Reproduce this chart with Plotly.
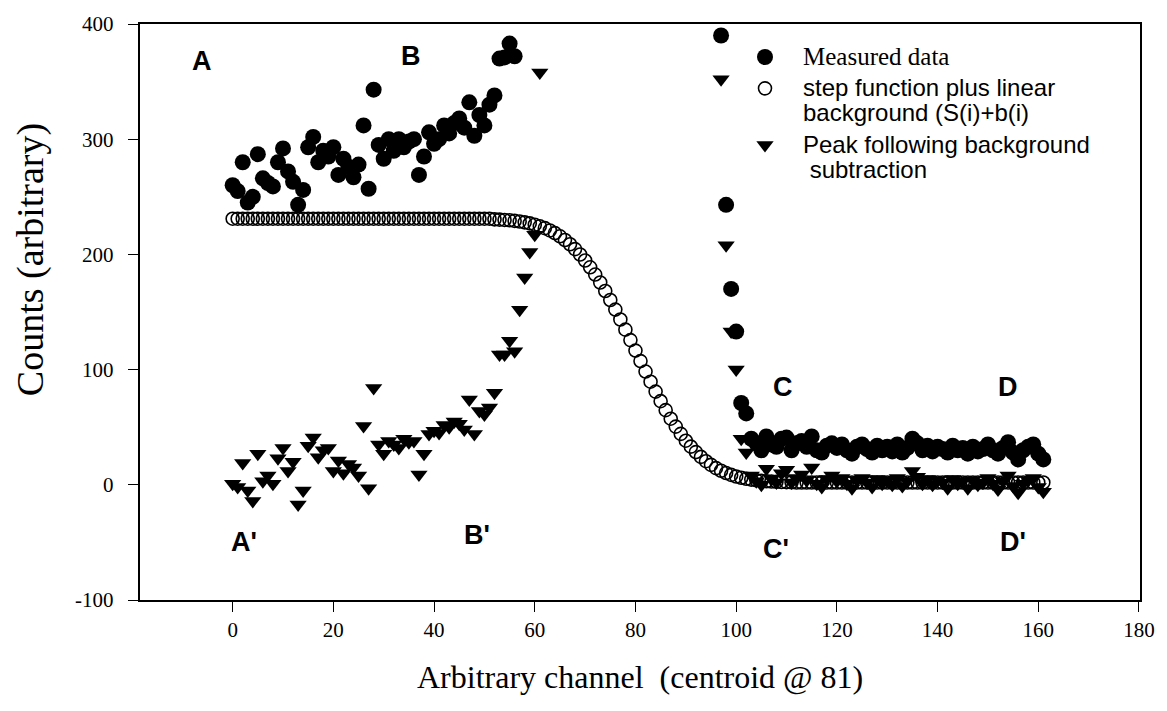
import plotly.graph_objects as go

# ---------------- data ----------------
meas_x = list(range(0, 57)) + [97, 98, 99, 100, 101, 102] + list(range(103, 162))
meas_y = [260, 255, 280, 245, 250, 287, 266, 262, 259, 280,
          292, 272, 263, 243, 256, 293, 302, 280, 290, 285,
          293, 269, 283, 276, 267, 278, 312, 257, 343, 295,
          283, 300, 290, 300, 293, 298, 300, 269, 285, 306,
          296, 300, 312, 305, 314, 318, 310, 332, 303, 321,
          312, 330, 338, 370, 371, 383, 372,
          390, 243, 170, 133, 71, 62,
          40, 36, 30, 42, 35, 33, 40, 41, 30, 36,
          38, 33, 42, 30, 28, 34, 36, 32, 35, 30,
          27, 33, 35, 31, 28, 34, 30, 33, 29, 35,
          28, 32, 40, 36, 30, 34, 29, 33, 31, 28,
          34, 30, 32, 27, 33, 29, 31, 35, 30, 27,
          32, 37, 28, 22, 30, 33, 35, 27, 22]

step_x = list(range(0, 162))
step_y = [231] * 52 + [
    230.4, 230.2, 229.9, 229.6, 229.1, 228.5, 227.8, 226.9, 225.8, 224.4,
    222.8, 220.8, 218.5, 215.7, 212.5, 208.8, 204.6, 199.9, 194.7, 188.8,
    182.5, 175.6, 168.2, 160.4, 152.1, 143.5, 134.7, 125.6, 116.5, 107.4,
    98.3, 89.5, 80.9, 72.6, 64.8, 57.4, 50.5, 44.2, 38.3, 33.1,
    28.4, 24.2, 20.5, 17.3, 14.5, 12.2, 10.2, 8.6, 7.2, 6.1,
    5.2, 4.5, 3.9, 3.4, 3.1, 2.8, 2.6, 2.4, 2.3, 2.2] + [2] * 50

peak_x = list(range(0, 62)) + [97, 98, 99, 100, 101, 102] + list(range(103, 162))
peak_y = [1, -2, 19, -5, -14, 27, 3, 8, 1, 23,
          32, 12, 20, -17, -5, 34, 41, 24, 30, 32,
          12, 21, 10, 18, 15, 8, 51, -3, 84, 35,
          27, 38, 35, 32, 40, 37, 38, 9, 27, 44,
          47, 45, 52, 50, 55, 53, 48, 74, 44, 64,
          61, 67, 80, 113, 113, 125, 116, 152, 180, 202,
          217, 358,
          352, 208, 133, 100, 40, 28,
          8, 3, 0, 14, 5, 2, 10, 13, 2, 6,
          9, 4, 15, 1, -2, 5, 8, 3, 6, 1,
          -3, 4, 6, 2, -2, 5, 1, 4, 0, 6,
          -1, 3, 12, 7, 1, 5, 0, 4, 2, -3,
          5, 1, 3, -3, 4, 0, 2, 6, 1, -4,
          3, 8, -1, -7, 1, 4, 6, -2, -6]

x_ticks = [0, 20, 40, 60, 80, 100, 120, 140, 160, 180]
y_ticks = [-100, 0, 100, 200, 300, 400]
y_tick_text = ["-100", "0", "100", "200", "300", "400"]

labels = ["A", "B", "C", "D", "A'", "B'", "C'", "D'"]
label_x = [-6.1, 35.4, 109.3, 153.9, 2.2, 48.5, 108, 155]
label_y = [368, 372, 85, 85, -50, -44, -56, -50]

SERIF = "Liberation Serif, Times New Roman, serif"
SANS = "Liberation Sans, Arial, sans-serif"
NB = "\u00a0"


def big(t, fam=None, size=24):
    f = f"font-family:{fam};" if fam else ""
    return f'<span style="{f}font-size:{size}px">{t}</span>'


fig = go.Figure()
fig.add_trace(go.Scatter(
    x=meas_x, y=meas_y, mode="markers", legendgroup="g1",
    name=big("Measured data", "Liberation Serif", 25),
    marker=dict(symbol="circle", size=16, color="black")))
fig.add_trace(go.Scatter(
    x=step_x, y=step_y, mode="markers", legendgroup="g2",
    name=big("step function plus linear") + "<br>" + big("background (S(i)+b(i)"),
    marker=dict(symbol="circle-open", size=13, color="black",
                line=dict(width=1.6, color="black"))))
fig.add_trace(go.Scatter(
    x=peak_x, y=peak_y, mode="markers", legendgroup="g3",
    name=big("Peak following background") + "<br>" + big(NB + "subtraction"),
    marker=dict(symbol="triangle-down", size=15, color="black")))

for t, lx, ly in zip(labels, label_x, label_y):
    fig.add_annotation(x=lx, y=ly, text=t, showarrow=False,
                       font=dict(family=SANS, size=27, color="black", weight="bold"))

fig.add_annotation(xref="paper", yref="paper", x=-0.11, y=0.59,
                   xanchor="center", yanchor="middle",
                   text="Counts (arbitrary)", textangle=-90, showarrow=False,
                   font=dict(family=SERIF, size=38, color="black"))
fig.add_annotation(xref="paper", yref="paper", x=0.5, y=-0.133, yanchor="middle",
                   text="Arbitrary channel&nbsp;&nbsp;(centroid @ 81)", showarrow=False,
                   font=dict(family=SERIF, size=32, color="black"))

fig.update_layout(
    width=1167, height=711,
    margin=dict(l=140, r=22, t=21, b=111),
    paper_bgcolor="white", plot_bgcolor="white",
    showlegend=True,
    legend=dict(x=0.587, y=0.976, xanchor="left", yanchor="top",
                bgcolor="rgba(0,0,0,0)", valign="top", itemwidth=66,
                font=dict(family=SANS, size=19.5, color="black"),
                tracegroupgap=3, itemsizing="trace"),
    xaxis=dict(range=[-18.4, 180.2], tickvals=x_ticks, showgrid=False, zeroline=False,
               showline=True, linecolor="black", linewidth=2, mirror=True,
               ticks="outside", ticklen=10, tickwidth=1, tickcolor="black",
               tickfont=dict(family=SERIF, size=21, color="black")),
    yaxis=dict(range=[-100, 400], tickvals=y_ticks,
               ticktext=[t + NB + NB for t in y_tick_text],
               showgrid=False, zeroline=False,
               showline=True, linecolor="black", linewidth=1.5, mirror=True,
               ticks="outside", ticklen=10, tickwidth=1, tickcolor="black",
               tickfont=dict(family=SERIF, size=21, color="black")),
)

fig.write_html("out.html")
